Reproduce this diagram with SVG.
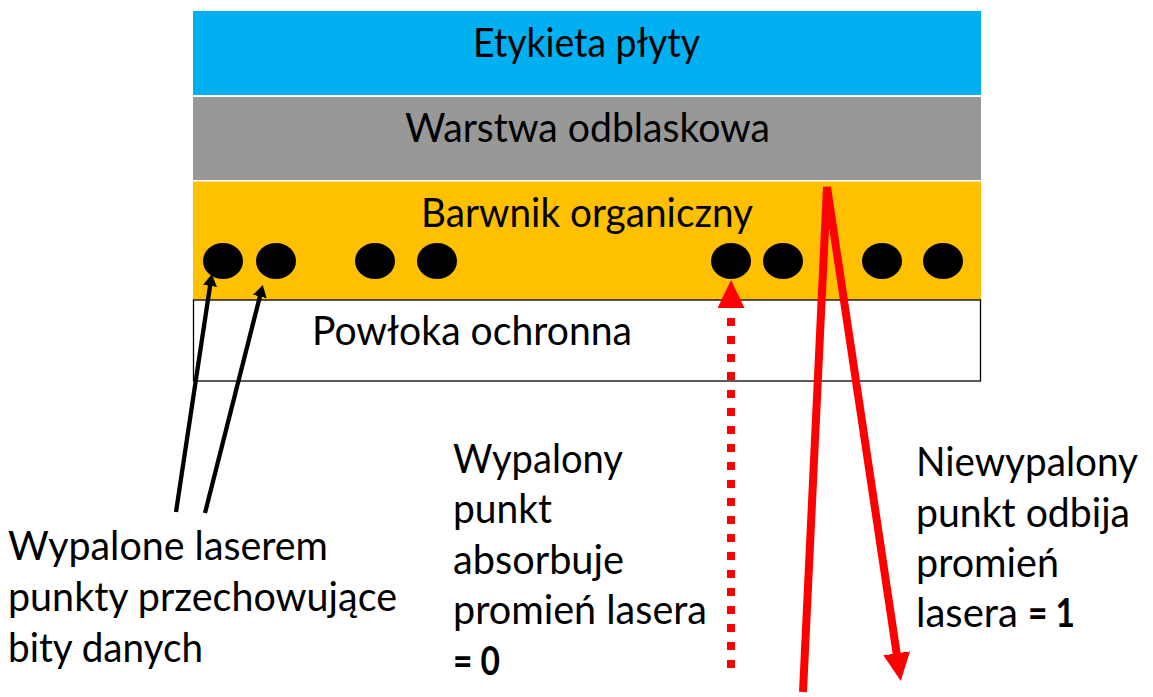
<svg xmlns="http://www.w3.org/2000/svg" width="1153" height="697" viewBox="0 0 1153 697">
  <style>
    .t { font-family: Lato, "Liberation Sans", sans-serif; font-size: 40px; fill: #000; }
    .c { text-anchor: middle; }
    .b { font-weight: bold; }
    .red { fill: none; stroke: #FF0000; stroke-width: 8; }
    .blk { fill: none; stroke: #000; stroke-width: 4.3; }
    .dot { fill: #000; }
  </style>
  <defs>
    <marker id="ahRed" viewBox="0 0 28 27" markerWidth="28" markerHeight="27" refX="1" refY="13.5" orient="auto" markerUnits="userSpaceOnUse">
      <path d="M0,0 L28,13.5 L0,27 Z" fill="#FF0000"/>
    </marker>
    <marker id="ahBlk" viewBox="0 0 12 14" markerWidth="12" markerHeight="14" refX="1" refY="7" orient="auto" markerUnits="userSpaceOnUse">
      <path d="M0,0 L12,7 L0,14 Z" fill="#000"/>
    </marker>
  </defs>
  <rect width="1153" height="697" fill="#FFFFFF"/>

  <g id="layer-label">
    <rect x="193" y="11" width="788" height="84" fill="#00B0F0"/>
    <text class="t c" x="586.5" y="57" textLength="227" lengthAdjust="spacingAndGlyphs">Etykieta płyty</text>
  </g>
  <g id="layer-reflective">
    <rect x="193" y="97" width="788" height="83" fill="#989898"/>
    <text class="t c" x="587.5" y="142" textLength="365" lengthAdjust="spacingAndGlyphs">Warstwa odblaskowa</text>
  </g>
  <g id="layer-dye">
    <rect x="193" y="181.5" width="788" height="118.5" fill="#FFC000"/>
    <text class="t c" x="587" y="227" textLength="332" lengthAdjust="spacingAndGlyphs">Barwnik organiczny</text>
  </g>
  <g id="layer-protective">
    <rect x="193.5" y="300" width="787" height="81" fill="#FFFFFF" stroke="#000" stroke-width="1.3"/>
    <text class="t c" x="472" y="345" textLength="320" lengthAdjust="spacingAndGlyphs">Powłoka ochronna</text>
  </g>

  <g id="pits">
    <ellipse class="dot" cx="223" cy="261" rx="20" ry="18"/>
    <ellipse class="dot" cx="276" cy="261" rx="20" ry="18"/>
    <ellipse class="dot" cx="375" cy="261" rx="20" ry="18"/>
    <ellipse class="dot" cx="437" cy="261" rx="20" ry="18"/>
    <ellipse class="dot" cx="731" cy="261" rx="20" ry="18"/>
    <ellipse class="dot" cx="783" cy="261" rx="20" ry="18"/>
    <ellipse class="dot" cx="882" cy="261" rx="20" ry="18"/>
    <ellipse class="dot" cx="943" cy="261" rx="20" ry="18"/>
  </g>

  <g id="connectors">
    <line class="blk" x1="176" y1="512" x2="210.2" y2="284.9" marker-end="url(#ahBlk)"/>
    <line class="blk" x1="205" y1="513" x2="260.1" y2="295.6" marker-end="url(#ahBlk)"/>
    <line class="red" x1="731" y1="668" x2="731" y2="307" stroke-width="7" stroke-dasharray="8 10" marker-end="url(#ahRed)"/>
    <path class="red" d="M803,692 L827,187 L896.8,654.3" stroke-linejoin="miter" marker-end="url(#ahRed)"/>
  </g>

  <g id="label-burned">
    <text class="t" x="8" y="560" textLength="320" lengthAdjust="spacingAndGlyphs">Wypalone laserem</text>
    <text class="t" x="8" y="611" textLength="389" lengthAdjust="spacingAndGlyphs">punkty przechowujące</text>
    <text class="t" x="8" y="662" textLength="195" lengthAdjust="spacingAndGlyphs">bity danych</text>
  </g>
  <g id="label-absorb">
    <text class="t" x="453" y="473" textLength="170" lengthAdjust="spacingAndGlyphs">Wypalony</text>
    <text class="t" x="453" y="523" textLength="99" lengthAdjust="spacingAndGlyphs">punkt</text>
    <text class="t" x="453" y="574" textLength="171" lengthAdjust="spacingAndGlyphs">absorbuje</text>
    <text class="t" x="453" y="624" textLength="254" lengthAdjust="spacingAndGlyphs">promień lasera</text>
    <text class="t b" x="453" y="675" textLength="47" lengthAdjust="spacingAndGlyphs">= 0</text>
  </g>
  <g id="label-reflect">
    <text class="t" x="916" y="476" textLength="222" lengthAdjust="spacingAndGlyphs">Niewypalony</text>
    <text class="t" x="916" y="527" textLength="214" lengthAdjust="spacingAndGlyphs">punkt odbija</text>
    <text class="t" x="916" y="577" textLength="143" lengthAdjust="spacingAndGlyphs">promień</text>
    <text class="t" x="916" y="627" textLength="102" lengthAdjust="spacingAndGlyphs">lasera</text>
    <text class="t b" x="1028" y="627" textLength="47" lengthAdjust="spacingAndGlyphs">= 1</text>
  </g>
</svg>
